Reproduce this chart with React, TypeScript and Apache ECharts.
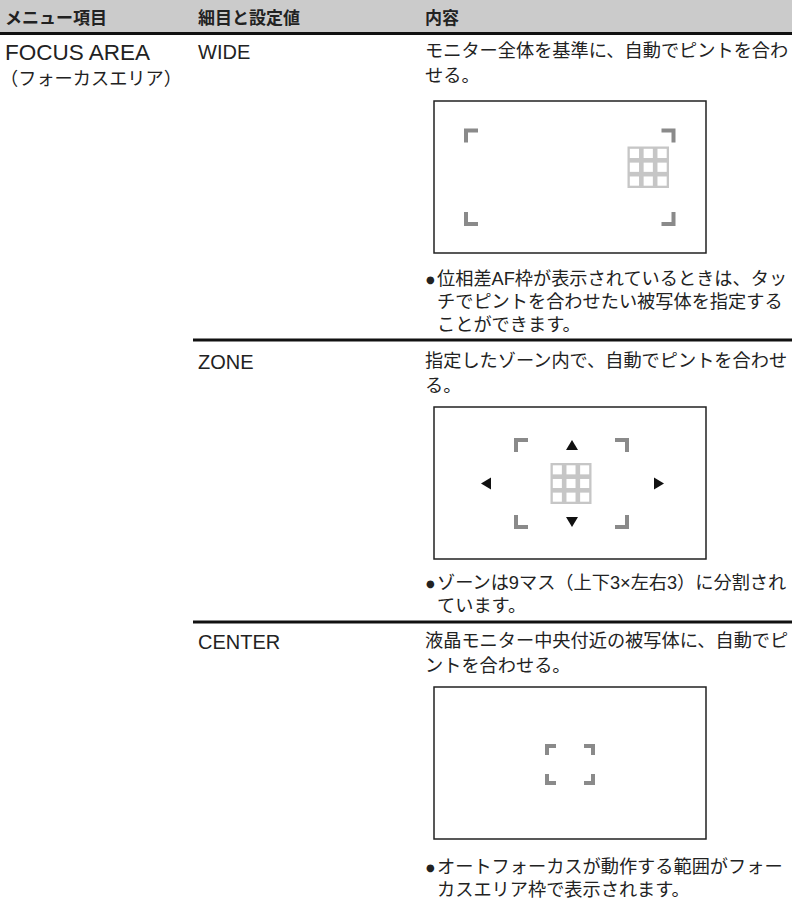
import React, { useEffect, useRef } from "react";
import * as echarts from "echarts";

// ---- content (text) ----
const headerLabels = ["メニュー項目", "細目と設定値", "内容"];
const menuItem = ["FOCUS AREA", "（フォーカスエリア）"];
const settings = ["WIDE", "ZONE", "CENTER"];
const descriptions = [
  ["モニター全体を基準に、自動でピントを合わ", "せる。"],
  ["指定したゾーン内で、自動でピントを合わせ", "る。"],
  ["液晶モニター中央付近の被写体に、自動でピ", "ントを合わせる。"],
];
const notes = [
  ["位相差AF枠が表示されているときは、タッ", "チでピントを合わせたい被写体を指定する", "ことができます。"],
  ["ゾーンは9マス（上下3×左右3）に分割され", "ています。"],
  ["オートフォーカスが動作する範囲がフォー", "カスエリア枠で表示されます。"],
];
const bullet = "●";

// ---- layout ----
const W = 792;
const H = 900;
const FONT = '"Liberation Sans", "Noto Sans CJK JP", sans-serif';
const TEXT = "#222222";
const BODY = 18.2;
const colX = [5, 198, 425];
const rowLine1 = [51, 361, 641];
const descLineH = 25;
const noteLineH = 23;
const boxTop = [101, 407, 687];
const noteTop = [279, 583, 867];
const sepY = [340, 622];
const BOX_X = 434;
const BOX_W = 272;
const BOX_H = 152;
const CORNER = "#8a8a8a";
const GRID = "#c6c6c6";

type Frame = {
  x0: number; x1: number; y0: number; y1: number; arm: number;
  grid?: [number, number, number];
  arrows?: { cx: number; cy: number; top: number; bottom: number; left: number; right: number };
};
const frames: Frame[] = [
  { x0: 30, x1: 241.5, y0: 27.5, y1: 125, arm: 14, grid: [193.5, 45.5, 41.5] },
  {
    x0: 80, x1: 195, y0: 31, y1: 122, arm: 14, grid: [116.5, 56, 41],
    arrows: { cx: 138, cy: 76.5, top: 33, bottom: 120, left: 47, right: 230 },
  },
  { x0: 111, x1: 161, y0: 57, y1: 98, arm: 11 },
];

function txt(x: number, y: number, text: string, size: number, weight = "normal", family = FONT) {
  return {
    type: "text",
    x, y,
    silent: true,
    style: { text, fill: TEXT, fontSize: size, fontWeight: weight, fontFamily: family, align: "left", verticalAlign: "middle" },
  };
}

function corner(ox: number, oy: number, dx: number, dy: number, arm: number) {
  const t = 4;
  const px = ox + (dx * t) / 2;
  const py = oy + (dy * t) / 2;
  return {
    type: "polyline",
    silent: true,
    shape: { points: [[ox + dx * arm, py], [px, py], [px, oy + dy * arm]] },
    style: { stroke: CORNER, lineWidth: t, fill: null, lineJoin: "miter", lineCap: "butt" },
  };
}

function buildElements() {
  const els: any[] = [];
  // header
  els.push({ type: "rect", silent: true, shape: { x: 0, y: 0, width: W, height: 32 }, style: { fill: "#cbcbcb" } });
  els.push({ type: "line", silent: true, shape: { x1: 0, y1: 33.5, x2: W, y2: 33.5 }, style: { stroke: "#111", lineWidth: 3 } });
  headerLabels.forEach((h, i) => els.push(txt(colX[i], 18, h, 17, "bold")));

  // menu item
  els.push(txt(colX[0], rowLine1[0] + 1, menuItem[0], 22.5));
  els.push(txt(0, rowLine1[0] + 28, menuItem[1], 18.2));

  // separators
  sepY.forEach((y) =>
    els.push({ type: "line", silent: true, shape: { x1: 193, y1: y, x2: W, y2: y }, style: { stroke: "#111", lineWidth: 3 } })
  );

  settings.forEach((s, r) => {
    els.push(txt(colX[1], rowLine1[r] + 1, s, 20));
    descriptions[r].forEach((line, k) => els.push(txt(colX[2], rowLine1[r] + k * descLineH, line, BODY)));
    // bullet + notes
    els.push(txt(colX[2] + 1, noteTop[r], bullet, 10, "normal", '"DejaVu Sans", sans-serif'));
    notes[r].forEach((line, k) => els.push(txt(colX[2] + 12, noteTop[r] + k * noteLineH, line, BODY)));

    // box
    const bx = BOX_X;
    const by = boxTop[r];
    els.push({
      type: "rect", silent: true,
      shape: { x: bx, y: by, width: BOX_W, height: BOX_H },
      style: { fill: "#ffffff", stroke: "#222", lineWidth: 1.5 },
    });
    const f = frames[r];
    els.push(corner(bx + f.x0, by + f.y0, 1, 1, f.arm));
    els.push(corner(bx + f.x1, by + f.y0, -1, 1, f.arm));
    els.push(corner(bx + f.x0, by + f.y1, 1, -1, f.arm));
    els.push(corner(bx + f.x1, by + f.y1, -1, -1, f.arm));
    if (f.grid) {
      const [gx, gy, gs] = f.grid;
      els.push({ type: "rect", silent: true, shape: { x: bx + gx, y: by + gy, width: gs, height: gs }, style: { fill: GRID } });
      const pitch = gs / 3;
      const inner = pitch - 4.6;
      for (let i = 0; i < 3; i++)
        for (let j = 0; j < 3; j++)
          els.push({
            type: "rect", silent: true,
            shape: { x: bx + gx + 2.3 + i * pitch, y: by + gy + 2.3 + j * pitch, width: inner, height: inner },
            style: { fill: "#ffffff" },
          });
    }
    if (f.arrows) {
      const a = f.arrows;
      const cx = bx + a.cx;
      const cy = by + a.cy;
      const tri = (pts: number[][]) => ({ type: "polygon", silent: true, shape: { points: pts }, style: { fill: "#111" } });
      els.push(tri([[cx, by + a.top], [cx - 6, by + a.top + 10], [cx + 6, by + a.top + 10]]));
      els.push(tri([[cx, by + a.bottom], [cx - 6, by + a.bottom - 10], [cx + 6, by + a.bottom - 10]]));
      els.push(tri([[bx + a.left, cy], [bx + a.left + 10, cy - 6], [bx + a.left + 10, cy + 6]]));
      els.push(tri([[bx + a.right, cy], [bx + a.right - 10, cy - 6], [bx + a.right - 10, cy + 6]]));
    }
  });
  return els;
}

export default function App() {
  const ref = useRef<HTMLDivElement>(null);
  useEffect(() => {
    if (!ref.current) return;
    const chart = echarts.init(ref.current, null, { renderer: "svg" });
    chart.setOption({ animation: false, backgroundColor: "#ffffff", graphic: { elements: buildElements() } });
    return () => chart.dispose();
  }, []);
  return (
    <div
      ref={ref}
      style={{ position: "absolute", left: 0, top: 0, width: W, height: H, background: "#fff" }}
    />
  );
}
